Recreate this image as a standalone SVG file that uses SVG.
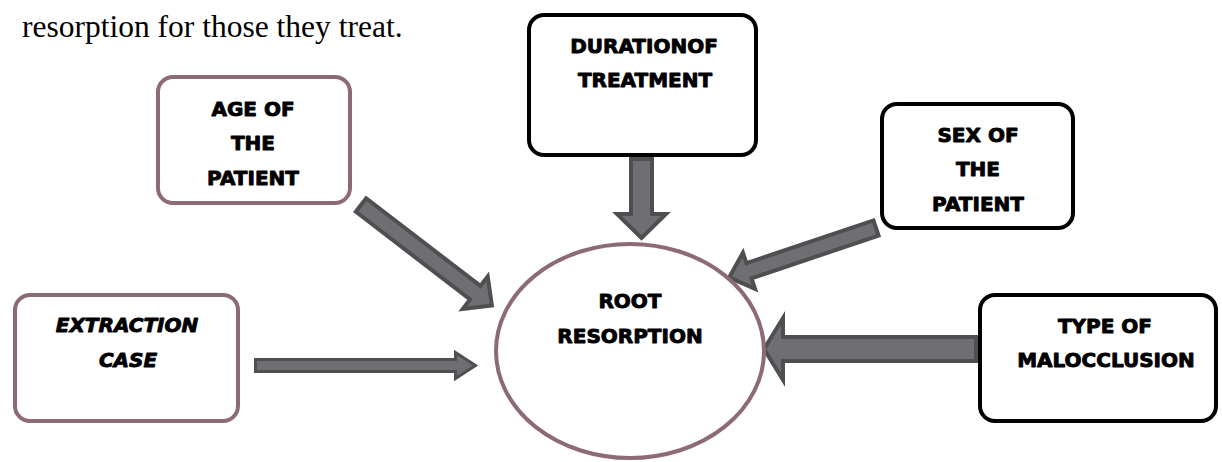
<svg xmlns="http://www.w3.org/2000/svg" width="1222" height="462" viewBox="0 0 1222 462">
<style>
.box{fill:#fff;stroke-width:4}
.mauve{stroke:#8d6b74}
.blk{stroke:#000}
.lbl{font-family:"DejaVu Sans","Liberation Sans",sans-serif;font-weight:bold;font-size:20px;fill:#000;stroke:#000;stroke-width:0.9;stroke-linejoin:round;text-anchor:middle}
.it{font-style:italic}
.arr{fill:#6f6e73;stroke:#4f4f51;stroke-width:4;stroke-linejoin:miter}
</style>
<rect width="1222" height="462" fill="#fff"/>
<text x="22" y="37" font-family="Liberation Serif, serif" font-size="31.5" fill="#000">resorption for those they treat.</text>
<g id="connectors">
<path class="arr" transform="translate(641.5,159) rotate(90)" d="M0,-10.5 L55,-10.5 L55,-24.5 L79,0 L55,24.5 L55,10.5 L0,10.5 Z"/>
<path class="arr" transform="translate(361,205) rotate(37.5)" d="M0,-8.5 L144,-8.5 L144,-20.5 L165,0 L144,20.5 L144,8.5 L0,8.5 Z"/>
<path class="arr" transform="translate(876,228) rotate(161.4)" d="M0,-8 L134,-8 L134,-19 L155,0 L134,19 L134,8 L0,8 Z"/>
<path class="arr" transform="translate(976,349) rotate(180)" d="M0,-12 L193,-12 L193,-31 L212,0 L193,31 L193,12 L0,12 Z"/>
<path class="arr" style="stroke-width:3" transform="translate(255.5,365.5)" d="M0,-6 L200,-6 L200,-13 L220,0 L200,13 L200,6 L0,6 Z"/>
</g>
<g id="root">
<ellipse cx="630" cy="351" rx="134" ry="107" fill="#fff" stroke="#8d6b74" stroke-width="4"/>
<text class="lbl" x="630" y="308">ROOT</text>
<text class="lbl" x="630" y="343">RESORPTION</text>
</g>
<g id="age">
<rect class="box mauve" x="158" y="77" width="192" height="126" rx="15"/>
<text class="lbl" x="253" y="116">AGE OF</text>
<text class="lbl" x="253" y="150">THE</text>
<text class="lbl" x="253" y="185">PATIENT</text>
</g>
<g id="duration">
<rect class="box blk" x="529" y="15" width="227" height="140" rx="15"/>
<text class="lbl" x="644" y="53">DURATIONOF</text>
<text class="lbl" x="645" y="87">TREATMENT</text>
</g>
<g id="sex">
<rect class="box blk" x="882" y="104" width="191" height="124" rx="15"/>
<text class="lbl" x="978" y="142">SEX OF</text>
<text class="lbl" x="978" y="176">THE</text>
<text class="lbl" x="978" y="211">PATIENT</text>
</g>
<g id="extraction">
<rect class="box mauve" x="15" y="295" width="223" height="126" rx="15"/>
<text class="lbl it" x="127" y="332">EXTRACTION</text>
<text class="lbl it" x="128" y="367">CASE</text>
</g>
<g id="malocclusion">
<rect class="box blk" x="980" y="295" width="236" height="126" rx="15"/>
<text class="lbl" x="1105" y="333">TYPE OF</text>
<text class="lbl" x="1106" y="367">MALOCCLUSION</text>
</g>
</svg>
